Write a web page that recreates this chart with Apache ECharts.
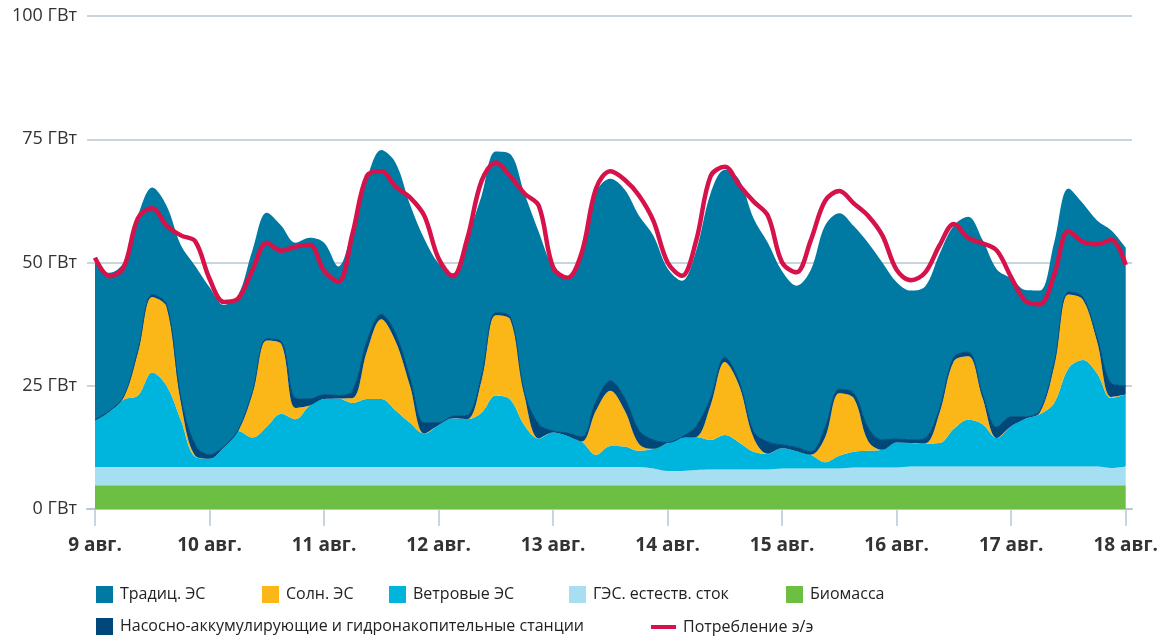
<!DOCTYPE html>
<html>
<head>
<meta charset="utf-8">
<title>Производство и потребление электроэнергии</title>
<script src="https://cdn.jsdelivr.net/npm/echarts@6/dist/echarts.min.js"></script>
<style>
  html, body { margin: 0; padding: 0; background: #fff; }
  #chart { width: 1161px; height: 637px; }
</style>
</head>
<body>
<div id="chart"></div>
<script>
// часы от начала 9 авг., шаг 3 ч
const hours = [
  0, 3, 6, 9, 12, 15, 18, 21,
  24, 27, 30, 33, 36, 39, 42, 45,
  48, 51, 54, 57, 60, 63, 66, 69,
  72, 75, 78, 81, 84, 87, 90, 93,
  96, 99, 102, 105, 108, 111, 114, 117,
  120, 123, 126, 129, 132, 135, 138, 141,
  144, 147, 150, 153, 156, 159, 162, 165,
  168, 171, 174, 177, 180, 183, 186, 189,
  192, 195, 198, 201, 204, 207, 210, 213,
  216
]
const dayLabels = ['9 авг.', '10 авг.', '11 авг.', '12 авг.', '13 авг.', '14 авг.', '15 авг.', '16 авг.', '17 авг.', '18 авг.']

// ГВт
const biomass = [
  4.8, 4.8, 4.8, 4.8, 4.8, 4.8, 4.8, 4.8,
  4.8, 4.8, 4.8, 4.8, 4.8, 4.8, 4.8, 4.8,
  4.8, 4.8, 4.8, 4.8, 4.8, 4.8, 4.8, 4.8,
  4.8, 4.8, 4.8, 4.8, 4.8, 4.8, 4.8, 4.8,
  4.8, 4.8, 4.8, 4.8, 4.8, 4.8, 4.8, 4.8,
  4.8, 4.8, 4.8, 4.8, 4.8, 4.8, 4.8, 4.8,
  4.8, 4.8, 4.8, 4.8, 4.8, 4.8, 4.8, 4.8,
  4.8, 4.8, 4.8, 4.8, 4.8, 4.8, 4.8, 4.8,
  4.8, 4.8, 4.8, 4.8, 4.8, 4.8, 4.8, 4.8,
  4.8
]
const hydro = [
  3.7, 3.7, 3.7, 3.7, 3.7, 3.7, 3.7, 3.7,
  3.7, 3.7, 3.7, 3.7, 3.7, 3.7, 3.7, 3.7,
  3.7, 3.7, 3.7, 3.7, 3.7, 3.7, 3.7, 3.7,
  3.7, 3.7, 3.7, 3.7, 3.7, 3.7, 3.7, 3.7,
  3.7, 3.7, 3.7, 3.7, 3.7, 3.7, 3.7, 3.4,
  2.9, 2.9, 3.1, 3.2, 3.2, 3.2, 3.2, 3.2,
  3.4, 3.4, 3.4, 3.4, 3.4, 3.6, 3.6, 3.6,
  3.6, 3.8, 3.8, 3.8, 3.8, 3.8, 3.8, 3.8,
  3.8, 3.8, 3.8, 3.8, 3.8, 3.8, 3.8, 3.5,
  3.8
]
const wind = [
  9.4, 11.2, 13.7, 14.5, 19.2, 16.5, 9.5, 2.1,
  1.7, 4, 7.3, 6, 8.2, 10.8, 9.7, 12.5,
  13.8, 13.9, 13, 13.8, 13.8, 11.5, 9, 6.8,
  8.5, 9.9, 9.7, 11, 14.5, 13.7, 8.5, 5.8,
  7, 6.3, 5.2, 2.5, 4.3, 4.2, 3.3, 4,
  5.7, 6.7, 6.7, 6, 7, 5.5, 3.6, 3.2,
  4.1, 3.5, 2.8, 1.3, 2.6, 3.2, 3.4, 3.6,
  5.1, 4.8, 4.7, 4.8, 7.7, 9.5, 8.6, 5.8,
  8.2, 9.7, 10.6, 12.9, 19.9, 21.6, 18.9, 14.2,
  14.6
]
const solar = [
  0, 0, 0.4, 8.8, 15.3, 16, 3.5, 0.2,
  0, 0, 0, 9, 17.5, 14.2, 2.3, 0,
  0, 0, 1, 9.7, 16.2, 14, 7.5, 0,
  0, 0, 0, 6.5, 16.3, 16.3, 6, 0,
  0, 0, 0, 9, 11.2, 7.3, 1.4, 0,
  0, 0, 0, 7, 14.8, 11.5, 2.9, 0,
  0, 0, 0, 5, 12.7, 10.9, 2, 0,
  0, 0, 0, 6.1, 13.7, 12.9, 5.3, 0,
  0, 0, 0.3, 7.5, 15, 12.3, 6.5, 0.2,
  0
]
const pumped = [
  0.2, 0.2, 0.2, 0.4, 0.5, 0.5, 1, 2.2,
  0.8, 0.2, 0.2, 0.3, 0.3, 0.5, 2, 1.3,
  0.9, 0.6, 1.5, 2, 1, 1.5, 1.5, 2.2,
  0.5, 0.4, 0.8, 1, 0.5, 0.5, 0.5, 2.9,
  0.3, 0.6, 0.9, 1.8, 2, 2.5, 2.7, 1.8,
  0.1, 0.2, 2.2, 1.5, 1, 0.8, 1.2, 2.4,
  0.7, 0.8, 0.6, 2, 0.8, 1, 2.7, 2,
  0.7, 0.6, 1.1, 1, 0.8, 0.8, 0.7, 2.2,
  1.9, 0.4, 0.5, 0.5, 0.5, 0.5, 0.7, 2.8,
  1.8
]
const conventional = [
  31.9, 28, 27.2, 27.3, 21.7, 20, 31, 36.3,
  34, 28.7, 27.4, 28.7, 25.6, 23.5, 31.5, 32.7,
  30.8, 26.2, 33, 33, 33.3, 34.7, 35.3, 37.3,
  32.3, 29, 36, 36.5, 32.7, 33, 40.5, 39,
  33.2, 31.2, 38.4, 42.5, 41, 42.3, 43.6, 41.5,
  35.3, 31.7, 35.7, 41.5, 38, 41, 43.3, 40.4,
  35.2, 32.8, 36.9, 41, 35.7, 33.9, 37.5, 36,
  31.8, 30.3, 30.8, 31.3, 26.7, 27.5, 31.4, 32,
  28.1, 25.7, 24.3, 24.5, 21, 19, 23.8, 31,
  28
]
const consumption = [
  51, 47.2, 49, 59, 61, 57.5, 55.5, 54.3,
  46.7, 42, 42.7, 48.5, 54, 52.4, 53.2, 53.6,
  48.3, 46.1, 56, 67.6, 68.5, 65.4, 63.2, 59.5,
  50.8, 47.2, 54.8, 66.5, 70.3, 67.5, 64, 61.5,
  49, 46.9, 52, 65, 68.5, 66.8, 63.6, 58.5,
  50, 47.3, 54.5, 67.5, 69.4, 65.7, 62.4, 59.5,
  50, 48, 54.5, 62.5, 64.5, 62, 59.5, 55.5,
  48.5, 46.4, 48, 53.5, 57.8, 55, 53.9, 52.4,
  47, 42.2, 41.5, 47.5, 56.4, 54.2, 53.7, 54.6,
  49.5
]

const colors = {
  conventional: '#0079a3',
  solar: '#fbb617',
  wind: '#00b5dd',
  hydro: '#a7dff2',
  biomass: '#6dbf44',
  pumped: '#00477a',
  consumption: '#d6124b'
}
const gridColor = '#b9c6d1'
const fontFamily = '"Open Sans", "Noto Sans", sans-serif'

// метка и засечка только в полночь
const isMidnight = (index) => hours[index] % 24 === 0

const areaSeries = (name, values, color, extra) => Object.assign({
  name: name,
  type: 'line',
  stack: 'gen',
  data: values,
  smooth: 0.35,
  showSymbol: false,
  symbol: 'none',
  lineStyle: { width: 0, color: color },
  itemStyle: { color: color },
  areaStyle: { color: color, opacity: 1 },
  emphasis: { disabled: true }
}, extra || {})

const legendItem = (name, left, top, opts) => Object.assign({
  data: [name],
  left: left,
  top: top,
  padding: 0,
  orient: 'horizontal',
  itemWidth: 17,
  itemHeight: 17,
  icon: 'rect',
  selectedMode: false,
  textStyle: { fontFamily: fontFamily, fontSize: 16, color: '#222', padding: [0, 0, 0, 2] }
}, opts || {})

const chart = echarts.init(document.getElementById('chart'))

chart.setOption({
  animation: false,
  backgroundColor: '#fff',
  grid: [
    // данные
    { left: 95, right: 35, top: 16, bottom: 128, containLabel: false },
    // сетка и шкала ГВт, чуть шире области данных
    { left: 87, right: 29, top: 16, bottom: 128, containLabel: false, z: 0 }
  ],
  xAxis: [
    {
      type: 'category',
      gridIndex: 0,
      data: hours,
      boundaryGap: false,
      axisLine: { show: false },
      axisTick: { show: true, interval: (i) => isMidnight(i), length: 17, lineStyle: { color: gridColor, width: 1.5 } },
      axisLabel: {
        interval: (i) => isMidnight(i),
        formatter: (v) => dayLabels[Math.round(v / 24)],
        margin: 27,
        fontFamily: fontFamily,
        fontSize: 19,
        fontWeight: 'bold',
        color: '#333'
      },
      splitLine: { show: false }
    },
    {
      type: 'value',
      gridIndex: 1,
      min: 0,
      max: 1,
      axisLine: { show: true, lineStyle: { color: gridColor, width: 2 } },
      axisTick: { show: false },
      axisLabel: { show: false },
      splitLine: { show: false }
    }
  ],
  yAxis: [
    {
      type: 'value',
      gridIndex: 0,
      min: 0,
      max: 100,
      interval: 25,
      axisLine: { show: false },
      axisTick: { show: false },
      axisLabel: { show: false },
      splitLine: { show: false }
    },
    {
      type: 'value',
      gridIndex: 1,
      min: 0,
      max: 100,
      interval: 25,
      axisLine: { show: false },
      axisTick: { show: false },
      axisLabel: {
        formatter: '{value} ГВт',
        margin: 10,
        fontFamily: fontFamily,
        fontSize: 18,
        color: '#333'
      },
      splitLine: { lineStyle: { color: gridColor, width: 1.5 } }
    }
  ],
  legend: [
    legendItem('Традиц. ЭС', 96, 586),
    legendItem('Солн. ЭС', 262, 586),
    legendItem('Ветровые ЭС', 389, 586),
    legendItem('ГЭС. естеств. сток', 569, 586),
    legendItem('Биомасса', 786, 586),
    legendItem('Насосно-аккумулирующие и гидронакопительные станции', 96, 618),
    legendItem('Потребление э/э', 651, 619, { itemWidth: 25, itemHeight: 4, icon: 'rect' })
  ],
  series: [
    areaSeries('Биомасса', biomass, colors.biomass, { smooth: false }),
    areaSeries('ГЭС. естеств. сток', hydro, colors.hydro),
    areaSeries('Ветровые ЭС', wind, colors.wind),
    areaSeries('Солн. ЭС', solar, colors.solar),
    areaSeries('Насосно-аккумулирующие и гидронакопительные станции', pumped, colors.pumped,
      { lineStyle: { width: 1, color: colors.pumped } }),
    areaSeries('Традиц. ЭС', conventional, colors.conventional),
    {
      name: 'Потребление э/э',
      type: 'line',
      data: consumption,
      smooth: 0.35,
      showSymbol: false,
      symbol: 'none',
      z: 5,
      lineStyle: { width: 4.5, color: colors.consumption },
      itemStyle: { color: colors.consumption },
      emphasis: { disabled: true }
    }
  ]
})
</script>
</body>
</html>
